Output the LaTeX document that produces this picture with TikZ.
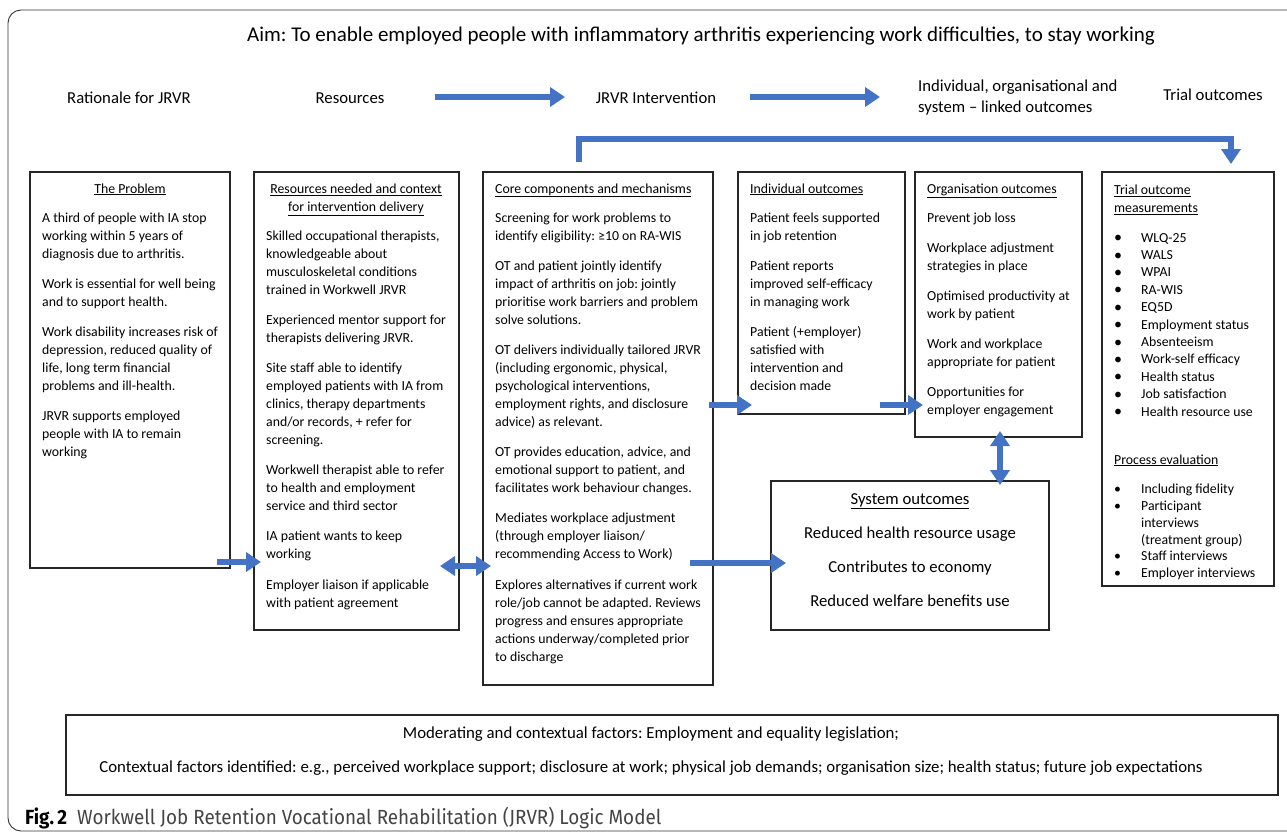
\documentclass[tikz,border=0pt]{standalone}
\usepackage{fontspec}
\setmainfont{Carlito}
\newfontfamily\capfont[FakeStretch=0.92]{Fira Sans}
\usetikzlibrary{arrows.meta}
\definecolor{arrblue}{HTML}{4472C4}
\definecolor{capgray}{HTML}{444444}
\frenchspacing
\newcommand\bodyf{\fontsize{13.8pt}{18pt}\selectfont}
\newcommand\listf{\fontsize{13.8pt}{17.4pt}\selectfont}
\newcommand\plistf{\fontsize{13.8pt}{16.8pt}\selectfont}
\newcommand\headf{\fontsize{16.7pt}{21pt}\selectfont}
\newcommand\sysf{\fontsize{16.7pt}{20pt}\selectfont}
\newcommand\bigbul{\makebox[27pt][l]{\hspace{0pt}{\fontsize{16pt}{17pt}\selectfont\raisebox{-0.5pt}{\textbullet}}}}
\newcommand\smbul{\makebox[27pt][l]{\hspace{0pt}\textbullet}}
\newcommand\nobul{\makebox[27pt][l]{}}
\begin{document}
\frenchspacing
\begin{tikzpicture}[x=1pt,y=-1pt,
  box/.style={draw=black!85,line width=1.4pt,anchor=north west,inner sep=0pt,outer sep=0pt},
  body/.style={anchor=north west,inner sep=0pt,align=left,font=\bodyf},
  ttl/.style={anchor=base,inner sep=0pt,font=\bodyf},
  ttlw/.style={anchor=base west,inner sep=0pt,font=\bodyf},
  head/.style={inner sep=0pt,font=\headf},
  barrow/.style={draw=arrblue,line width=5.5pt,-{Triangle[length=15pt,width=19pt]}},
  dbarrow/.style={draw=arrblue,line width=5.5pt,{Triangle[length=15pt,width=19pt]}-{Triangle[length=15pt,width=19pt]}}
]
\useasboundingbox (0,0) rectangle (1287,835);
\fill[white] (0,0) rectangle (1287,835);
% outer frame
\draw[black!80,line width=0.9pt,rounded corners=13pt] (8,10) rectangle (1310,831);

% aim
\node[anchor=base,inner sep=0pt,font=\fontsize{21pt}{24pt}\selectfont] (aim) at (701,41) {Aim: To enable employed people with inflammatory arthritis experiencing work difficulties, to stay working};

% header labels
\node[head,anchor=base] (hrat) at (129,103) {Rationale for JRVR};
\node[head,anchor=base] (hres) at (350,103) {Resources};
\node[head,anchor=base] (hint) at (656,103) {JRVR Intervention};
\node[head,anchor=north west,align=left] (hout) at (918,77) {\strut Individual, organisational and\\system -- linked outcomes};
\node[head,anchor=base] (htri) at (1213,100) {Trial outcomes};

\coordinate (h1s) at (435,97);
\coordinate (h1e) at (565,97);
\coordinate (h2s) at (750,97);
\coordinate (h2e) at (880,97);
\draw[barrow] (h1s) -- (h1e);
\draw[barrow] (h2s) -- (h2e);

% boxes
\node[box,minimum width=200,minimum height=396] (prob) at (30,172) {};
\node[box,minimum width=205,minimum height=458] (res) at (254,172) {};
\node[box,minimum width=230,minimum height=513] (core) at (483,172) {};
\node[box,minimum width=167,minimum height=242] (ind) at (738,172) {};
\node[box,minimum width=167,minimum height=265] (org) at (915,172) {};
\node[box,minimum width=172,minimum height=414] (tri) at (1102,172) {};
\node[box,minimum width=278,minimum height=149] (sys) at (771,481) {};
\node[box,minimum width=1212,minimum height=80] (ctx) at (66,715) {};

% problem
\node[ttl] (probt) at (130,193) {\underline{The Problem}};
\node[body] (probb) at (42,209.8) {\strut A third of people with IA stop\\working within 5 years of\\diagnosis due to arthritis.\\[12pt]Work is essential for well being\\and to support health.\\[12pt]Work disability increases risk of\\depression, reduced quality of\\life, long term financial\\problems and ill-health.\\[12pt]JRVR supports employed\\people with IA to remain\\working};

% resources
\node[anchor=north,inner sep=0pt,align=center,font=\bodyf] (rest) at (356,180.4) {\strut\underline{Resources needed and context}\\\underline{for intervention delivery}};
\node[body] (resb) at (266,227.8) {\strut Skilled occupational therapists,\\knowledgeable about\\musculoskeletal conditions\\trained in Workwell JRVR\\[12pt]Experienced mentor support for\\therapists delivering JRVR.\\[12pt]Site staff able to identify\\employed patients with IA from\\clinics, therapy departments\\and/or records, + refer for\\screening.\\[12pt]Workwell therapist able to refer\\to health and employment\\service and third sector\\[12pt]IA patient wants to keep\\working\\[13pt]Employer liaison if applicable\\with patient agreement};

% core
\node[ttlw] (coret) at (495,193) {\underline{Core components and mechanisms}};
\node[body] (coreb) at (495,209.8) {\strut Screening for work problems to\\identify eligibility: ≥10 on RA-WIS\\[12pt]OT and patient jointly identify\\impact of arthritis on job: jointly\\prioritise work barriers and problem\\solve solutions.\\[12pt]OT delivers individually tailored JRVR\\(including ergonomic, physical,\\psychological interventions,\\employment rights, and disclosure\\advice) as relevant.\\[12pt]OT provides education, advice, and\\emotional support to patient, and\\facilitates work behaviour changes.\\[12pt]Mediates workplace adjustment\\(through employer liaison/\\recommending Access to Work)\\[13pt]Explores alternatives if current work\\role/job cannot be adapted. Reviews\\progress and ensures appropriate\\actions underway/completed prior\\to discharge};

% individual
\node[ttlw] (indt) at (750,193) {\underline{Individual outcomes}};
\node[body] (indb) at (750,209.8) {\strut Patient feels supported\\in job retention\\[12pt]Patient reports\\improved self-efficacy\\in managing work\\[12pt]Patient (+employer)\\satisfied with\\intervention and\\decision made};

% organisation
\node[ttlw] (orgt) at (927,193) {\underline{Organisation outcomes}};
\node[body] (orgb) at (927,209.8) {\strut Prevent job loss\\[12pt]Workplace adjustment\\strategies in place\\[12pt]Optimised productivity at\\work by patient\\[12pt]Work and workplace\\appropriate for patient\\[12pt]Opportunities for\\employer engagement};

% trial
\node[body] (trit) at (1114,181.4) {\strut\underline{Trial outcome}\\\underline{measurements}};
\node[body,font=\listf] (tril) at (1114,229.8) {\strut\bigbul WLQ-25\\\bigbul WALS\\\bigbul WPAI\\\bigbul RA-WIS\\\bigbul EQ5D\\\bigbul Employment status\\\bigbul Absenteeism\\\bigbul Work-self efficacy\\\bigbul Health status\\\bigbul Job satisfaction\\\bigbul Health resource use};
\node[ttlw] (proc) at (1114,464) {\underline{Process evaluation}};
\node[body,font=\plistf] (procl) at (1114,481.8) {\strut\smbul Including fidelity\\\smbul Participant\\\nobul interviews\\\nobul (treatment group)\\\smbul Staff interviews\\\smbul Employer interviews};

% system
\node[anchor=base,inner sep=0pt,font=\sysf] (syst) at (910,504.5) {\underline{System outcomes}};
\node[anchor=base,inner sep=0pt,font=\sysf] (sys1) at (910,538.5) {Reduced health resource usage};
\node[anchor=base,inner sep=0pt,font=\sysf] (sys2) at (910,572.5) {Contributes to economy};
\node[anchor=base,inner sep=0pt,font=\sysf] (sys3) at (910,606.5) {Reduced welfare benefits use};

% context
\node[anchor=base,inner sep=0pt,font=\fontsize{16.8pt}{18pt}\selectfont] (ctx1) at (651,738.5) {Moderating and contextual factors: Employment and equality legislation;};
\node[anchor=base,inner sep=0pt,font=\fontsize{16.8pt}{18pt}\selectfont] (ctx2) at (651,772.5) {Contextual factors identified: e.g., perceived workplace support; disclosure at work; physical job demands; organisation size; health status; future job expectations};

% caption
\node[anchor=base west,inner sep=0pt,font=\capfont\fontsize{20.5pt}{22pt}\selectfont] (cap) at (25,824) {\textbf{Fig.\,2}\ \ \textcolor{capgray}{Workwell Job Retention Vocational Rehabilitation (JRVR) Logic Model}};

% connectors
\coordinate (a1s) at (217,562);
\coordinate (a1e) at (261,562);
\draw[barrow] (a1s) -- (a1e);
\coordinate (a2s) at (440,566);
\coordinate (a2e) at (491,566);
\draw[dbarrow] (a2s) -- (a2e);
\coordinate (a3s) at (709,405);
\coordinate (a3e) at (752,405);
\draw[barrow] (a3s) -- (a3e);
\coordinate (a4s) at (880,405);
\coordinate (a4e) at (923,405);
\draw[barrow] (a4s) -- (a4e);
\coordinate (a5s) at (1000,431);
\coordinate (a5e) at (1000,485);
\draw[dbarrow] (a5s) -- (a5e);
\coordinate (a6s) at (690,563);
\coordinate (a6e) at (786,563);
\draw[barrow] (a6s) -- (a6e);
\coordinate (bks) at (579,162);
\coordinate (bke) at (1231,164);
\draw[barrow] (bks) -- (579,139) -- (1231,139) -- (bke);
\end{tikzpicture}
\end{document}
